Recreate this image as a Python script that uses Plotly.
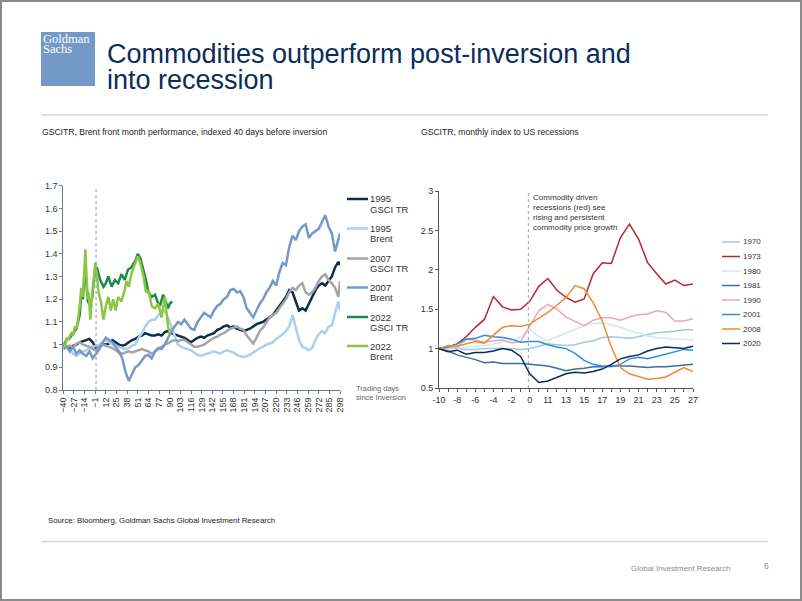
import plotly.graph_objects as go

W, H = 802, 601
def X(px): return px / W
def Y(py): return 1 - py / H

FONT = "Liberation Sans, Arial, sans-serif"

# ---------------- Left chart data (index, 40 trading days before inversion) -------------
days_long = list(range(-40, 297, 4)) + [298]
gsci_1995 = [1.00, 0.99, 0.98, 0.995, 1.00, 1.01, 1.015, 1.02, 1.025, 1.01,
             0.98, 0.99, 1.00, 1.00, 1.005, 1.02, 1.01, 1.00, 0.995, 1.00,
             1.01, 1.02, 1.025, 1.035, 1.04, 1.05, 1.045, 1.04, 1.04, 1.045,
             1.04, 1.055, 1.06, 1.05, 1.045, 1.04, 1.035, 1.03, 1.02, 1.01,
             1.02, 1.03, 1.035, 1.03, 1.04, 1.045, 1.05, 1.065, 1.07, 1.08,
             1.085, 1.075, 1.08, 1.07, 1.065, 1.06, 1.065, 1.07, 1.08, 1.09,
             1.095, 1.10, 1.11, 1.12, 1.13, 1.15, 1.17, 1.19, 1.21, 1.24,
             1.23, 1.19, 1.15, 1.16, 1.15, 1.18, 1.21, 1.24, 1.26, 1.27,
             1.26, 1.28, 1.30, 1.34, 1.365, 1.35]
brent_1995 = [1.00, 0.985, 0.975, 0.96, 0.95, 0.96, 0.97, 0.975, 0.985, 0.99,
              0.995, 1.00, 1.01, 1.02, 1.01, 1.00, 0.995, 0.99, 0.985, 0.98,
              0.985, 0.995, 1.00, 1.03, 1.05, 1.08, 1.10, 1.11, 1.11, 1.13,
              1.14, 1.15, 1.12, 1.08, 1.04, 1.00, 0.99, 0.985, 0.98, 0.975,
              0.965, 0.955, 0.95, 0.955, 0.96, 0.965, 0.97, 0.965, 0.96, 0.97,
              0.975, 0.97, 0.965, 0.955, 0.95, 0.945, 0.95, 0.955, 0.965, 0.975,
              0.985, 0.99, 1.00, 1.005, 1.01, 1.025, 1.035, 1.045, 1.06, 1.08,
              1.13, 1.08, 1.02, 0.99, 0.985, 0.975, 0.985, 1.02, 1.045, 1.06,
              1.05, 1.08, 1.085, 1.14, 1.19, 1.15]
gsci_2007 = [0.99, 0.99, 0.995, 0.985, 1.005, 1.01, 1.00, 0.995, 0.99, 0.98,
             0.975, 0.99, 1.00, 0.995, 0.99, 0.985, 0.975, 0.965, 0.96, 0.965,
             0.97, 0.965, 0.97, 0.975, 0.98, 0.975, 0.97, 0.96, 0.97, 0.98,
             0.99, 1.00, 1.005, 1.015, 1.02, 1.015, 1.02, 1.02, 1.01, 1.00,
             0.99, 0.99, 0.995, 1.00, 1.01, 1.02, 1.03, 1.035, 1.045, 1.05,
             1.06, 1.07, 1.075, 1.08, 1.07, 1.065, 1.04, 1.02, 1.005, 1.03,
             1.06, 1.075, 1.10, 1.12, 1.13, 1.14, 1.16, 1.18, 1.20, 1.23,
             1.25, 1.24, 1.26, 1.27, 1.23, 1.22, 1.23, 1.25, 1.28, 1.30,
             1.31, 1.285, 1.27, 1.25, 1.21, 1.28]
brent_2007 = [0.98, 0.99, 0.97, 0.99, 0.96, 0.975, 0.96, 0.95, 0.97, 0.94,
              0.96, 0.98, 1.01, 1.03, 1.02, 1.01, 0.99, 0.97, 0.94, 0.88,
              0.84, 0.87, 0.90, 0.91, 0.93, 0.95, 0.955, 0.94, 0.97, 0.985,
              0.98, 1.00, 1.03, 1.06, 1.08, 1.10, 1.09, 1.11, 1.09, 1.07,
              1.065, 1.10, 1.12, 1.14, 1.13, 1.12, 1.15, 1.17, 1.18, 1.20,
              1.21, 1.24, 1.245, 1.23, 1.235, 1.21, 1.16, 1.14, 1.12, 1.15,
              1.18, 1.20, 1.23, 1.25, 1.28, 1.26, 1.32, 1.36, 1.35, 1.43,
              1.48, 1.46, 1.50, 1.52, 1.53, 1.47, 1.49, 1.50, 1.51, 1.54,
              1.57, 1.52, 1.49, 1.41, 1.47, 1.49]
days_gsci_2022 = [-40, -36, -32, -28, -24, -20, -18, -16, -14, -12, -10, -8, -5, -3, -1,
                  1, 5, 9, 12, 15, 19, 23, 27, 31, 35, 39, 43, 48, 51, 54, 57, 60,
                  64, 68, 72, 76, 78, 82, 86, 88, 90, 92, 93]
gsci_2022 = [1.00, 1.02, 1.03, 1.05, 1.07, 1.13, 1.22, 1.20, 1.32, 1.28, 1.19, 1.18, 1.20, 1.27, 1.33,
             1.34, 1.285, 1.255, 1.27, 1.30, 1.255, 1.285, 1.27, 1.31, 1.285, 1.33, 1.34, 1.37, 1.40, 1.38, 1.34, 1.30,
             1.23, 1.21, 1.22, 1.18, 1.17, 1.22, 1.18, 1.16, 1.18, 1.19, 1.19]
days_brent_2022 = [-40, -38, -36, -34, -32, -30, -28, -26, -24, -22, -20, -18, -16, -14, -13,
                   -12, -10, -9, -7, -5, -3, -1, 1, 3, 6, 9, 12, 15, 18, 21, 24, 27, 31,
                   35, 37, 40, 43, 48, 51, 54, 58, 61, 64, 68, 72, 76, 80, 84, 86, 88, 90, 91]
brent_2022 = [1.00, 0.99, 1.03, 1.02, 1.04, 1.05, 1.04, 1.08, 1.07, 1.11, 1.17, 1.25, 1.21, 1.36, 1.42,
              1.33, 1.20, 1.23, 1.11, 1.21, 1.30, 1.36, 1.31, 1.23, 1.19, 1.11, 1.17, 1.21, 1.15, 1.20, 1.15, 1.21, 1.19,
              1.24, 1.28, 1.255, 1.31, 1.36, 1.39, 1.36, 1.30, 1.23, 1.24, 1.17, 1.16, 1.18, 1.12, 1.21, 1.14, 1.08, 1.05, 1.07]

left_names = ["1995 GSCI TR", "1995 Brent", "2007 GSCI TR", "2007 Brent", "2022 GSCI TR", "2022 Brent"]
left_lines1 = ["1995", "1995", "2007", "2007", "2022", "2022"]
left_lines2 = ["GSCI TR", "Brent", "GSCI TR", "Brent", "GSCI TR", "Brent"]
left_colors = ["#0c2c55", "#a9d0ef", "#a5a5a5", "#7499c9", "#1c8a48", "#8dc641"]
left_x = [days_long, days_long, days_long, days_long, days_gsci_2022, days_brent_2022]
left_y = [gsci_1995, brent_1995, gsci_2007, brent_2007, gsci_2022, brent_2022]

# ---------------- Right chart data (monthly index to US recessions) -------------
months = [str(m) for m in range(-10, 1)] + [str(m) for m in range(10, 28)]
rec_1970 = [1.00, 1.00, 1.00, 0.99, 0.99, 1.00, 1.00, 1.00, 1.00, 0.99, 1.00, 1.03, 1.06, 1.05, 1.04,
            1.05, 1.08, 1.10, 1.14, 1.15, 1.14, 1.13, 1.15, 1.18, 1.20, 1.21, 1.22, 1.24, 1.24]
rec_1973 = [1.00, 1.02, 1.06, 1.15, 1.27, 1.37, 1.66, 1.53, 1.49, 1.50, 1.60, 1.79, 1.89, 1.74, 1.65,
            1.59, 1.63, 1.95, 2.09, 2.08, 2.41, 2.58, 2.39, 2.09, 1.95, 1.82, 1.87, 1.80, 1.82]
rec_1980 = [1.00, 1.00, 1.01, 1.02, 1.03, 1.04, 1.06, 1.08, 1.10, 1.15, 1.25, 1.15, 1.10, 1.15, 1.20,
            1.25, 1.29, 1.32, 1.33, 1.30, 1.27, 1.23, 1.19, 1.16, 1.14, 1.13, 1.12, 1.12, 1.11]
rec_1981 = [1.00, 0.97, 0.92, 0.89, 0.86, 0.82, 0.83, 0.81, 0.81, 0.81, 0.80, 0.79, 0.78, 0.75, 0.72,
            0.74, 0.75, 0.77, 0.77, 0.78, 0.78, 0.78, 0.77, 0.76, 0.77, 0.77, 0.78, 0.79, 0.80]
rec_1990 = [1.00, 1.01, 1.02, 1.12, 1.11, 1.08, 1.10, 1.11, 1.07, 1.09, 1.28, 1.48, 1.56, 1.50, 1.40,
            1.34, 1.29, 1.36, 1.39, 1.39, 1.36, 1.40, 1.43, 1.44, 1.48, 1.46, 1.35, 1.35, 1.38]
rec_2001 = [1.00, 1.02, 1.06, 1.12, 1.13, 1.17, 1.15, 1.14, 1.12, 1.08, 1.09, 1.09, 1.05, 1.02, 1.00,
            0.94, 0.85, 0.80, 0.78, 0.77, 0.80, 0.87, 0.89, 0.87, 0.90, 0.93, 0.96, 0.99, 0.98]
rec_2008 = [1.00, 1.04, 1.03, 1.06, 1.09, 1.07, 1.17, 1.27, 1.29, 1.28, 1.31, 1.38, 1.46, 1.55, 1.65,
            1.80, 1.76, 1.58, 1.35, 1.02, 0.76, 0.68, 0.64, 0.61, 0.62, 0.64, 0.70, 0.76, 0.71]
rec_2020 = [1.00, 0.96, 0.98, 0.93, 0.95, 0.95, 0.97, 1.00, 0.98, 0.90, 0.68, 0.57, 0.59, 0.64, 0.68,
            0.70, 0.69, 0.71, 0.74, 0.80, 0.87, 0.90, 0.92, 0.97, 1.00, 1.02, 1.01, 1.00, 1.03]

right_names = ["1970", "1973", "1980", "1981", "1990", "2001", "2008", "2020"]
right_colors = ["#9cc8ea", "#b8272f", "#d2e6f6", "#3b6f9c", "#e8a8b2", "#2e8ce0", "#f08a2c", "#0d2b4f"]
right_y = [rec_1970, rec_1973, rec_1980, rec_1981, rec_1990, rec_2001, rec_2008, rec_2020]

# ---------------- Figure -------------
fig = go.Figure()
for xs, ys, name, col in zip(left_x, left_y, left_names, left_colors):
    fig.add_trace(go.Scatter(x=xs, y=ys, mode="lines", name=name, showlegend=False,
                             line=dict(color=col, width=2.5), xaxis="x", yaxis="y"))
idx = list(range(len(months)))
for ys, name, col in zip(right_y, right_names, right_colors):
    fig.add_trace(go.Scatter(x=idx, y=ys, mode="lines", name=name, showlegend=False,
                             line=dict(color=col, width=1.5), xaxis="x2", yaxis="y2"))

AX_L = "#6a7a92"
AX_R = "#555555"
fig.update_layout(
    template="none",
    width=W, height=H, autosize=False,
    margin=dict(l=0, r=0, t=0, b=0, pad=0, autoexpand=False),
    paper_bgcolor="white", plot_bgcolor="rgba(0,0,0,0)",
    font=dict(family=FONT, size=9, color="#333333"),
    xaxis=dict(domain=[X(63.3), X(340)], anchor="y", range=[-40, 298], automargin=False,
               tickmode="linear", tick0=-40, dtick=13, tickangle=-90,
               showgrid=False, zeroline=False, showline=True, linecolor=AX_L, linewidth=1,
               ticks="outside", ticklen=3, tickcolor=AX_L, tickfont=dict(size=9, color="#333")),
    yaxis=dict(domain=[Y(390), Y(185.7)], anchor="x", range=[0.8, 1.7], dtick=0.1, automargin=False,
               showgrid=False, zeroline=False, showline=True, linecolor=AX_L, linewidth=1,
               ticks="outside", ticklen=3, tickcolor=AX_L, tickfont=dict(size=9, color="#333")),
    xaxis2=dict(domain=[X(439), X(693)], anchor="y2", range=[0, len(months) - 1], automargin=False,
                tickmode="array", tickvals=idx,
                ticktext=[m if i % 2 == 0 else "" for i, m in enumerate(months)],
                tickangle=0,
                showgrid=False, zeroline=False, showline=True, linecolor=AX_R, linewidth=1,
                ticks="outside", ticklen=3, tickcolor=AX_R, tickfont=dict(size=9, color="#333")),
    yaxis2=dict(domain=[Y(388), Y(191)], anchor="x2", range=[0.5, 3], dtick=0.5, automargin=False,
                showgrid=False, zeroline=False, showline=True, linecolor=AX_R, linewidth=1,
                ticks="outside", ticklen=3, tickcolor=AX_R, tickfont=dict(size=9, color="#333")),
)

shapes = []
ann = []
def text(t, px, py, size, color="#333", xanchor="left", family=FONT):
    ann.append(dict(text=t, x=X(px), y=Y(py), xanchor=xanchor, yanchor="middle", showarrow=False,
                    xref="paper", yref="paper", borderpad=0,
                    font=dict(family=family, size=size, color=color)))

# slide border
shapes.append(dict(type="rect", xref="paper", yref="paper", x0=X(1), x1=X(801), y0=Y(600), y1=Y(1),
                   line=dict(color="#8a8a8a", width=2)))
# logo
shapes.append(dict(type="rect", xref="paper", yref="paper", x0=X(41), x1=X(95), y0=Y(86), y1=Y(32),
                   fillcolor="#7399c6", line=dict(width=0)))
text("Goldman", 42, 39, 12.5, "white", family="Liberation Serif, serif")
text("Sachs", 42, 48.5, 12.5, "white", family="Liberation Serif, serif")
# title
text("Commodities outperform post-inversion and", 106, 54, 27, "#0b2d58")
text("into recession", 106, 80, 27, "#0b2d58")
# rules
for yy in [115, 541.5]:
    shapes.append(dict(type="line", xref="paper", yref="paper", x0=X(41), x1=X(768), y0=Y(yy), y1=Y(yy),
                       line=dict(color="#d6d6d6", width=1.5)))
# subtitles
text("GSCITR, Brent front month performance, indexed 40 days before inversion", 41, 132, 8.6, "#222")
text("GSCITR, monthly index to US recessions", 420, 132, 8.6, "#222")
# footer
text("Source: Bloomberg, Goldman Sachs Global Investment Research", 47, 520.5, 7.8, "#222")
text("Global Investment Research", 630, 568, 7.9, "#8c8c8c")
text("6", 766, 566, 8.5, "#8c8c8c", xanchor="center")

# inversion markers
shapes.append(dict(type="line", xref="x", yref="y domain", x0=0, x1=0, y0=0, y1=1,
                   line=dict(color="#7d9cc4", width=1, dash="dot")))
shapes.append(dict(type="line", xref="x2", yref="y2 domain", x0=9.85, x1=9.85, y0=0, y1=1,
                   line=dict(color="#8ea2bb", width=1, dash="dot")))

# left legend
left_leg_y = [199, 228.5, 258.5, 287.5, 317, 346]
for l1, l2, col, yy in zip(left_lines1, left_lines2, left_colors, left_leg_y):
    shapes.append(dict(type="line", xref="paper", yref="paper", x0=X(347), x1=X(368), y0=Y(yy), y1=Y(yy),
                       line=dict(color=col, width=2.5)))
    text(l1, 369, yy, 9.5)
    text(l2, 369, yy + 10, 9.5)
text("Trading days", 355, 388, 7.5, "#666")
text("since Inversion", 355, 397, 7.5, "#666")

# right legend
for k, (name, col) in enumerate(zip(right_names, right_colors)):
    yy = 242 + 14.5 * k
    shapes.append(dict(type="line", xref="paper", yref="paper", x0=X(722), x1=X(740), y0=Y(yy), y1=Y(yy),
                       line=dict(color=col, width=1.5)))
    text(name, 742, yy, 8)

# right annotation
note = ["Commodity driven", "recessions (red) see", "rising and persistent", "commodity price growth"]
for k, t in enumerate(note):
    text(t, 532, 198 + 9.7 * k, 8)

fig.update_layout(shapes=shapes, annotations=ann)
fig.write_html("out.html", config={"displayModeBar": False},
               post_script="document.body.style.margin='0px';document.body.style.overflow='hidden';")
